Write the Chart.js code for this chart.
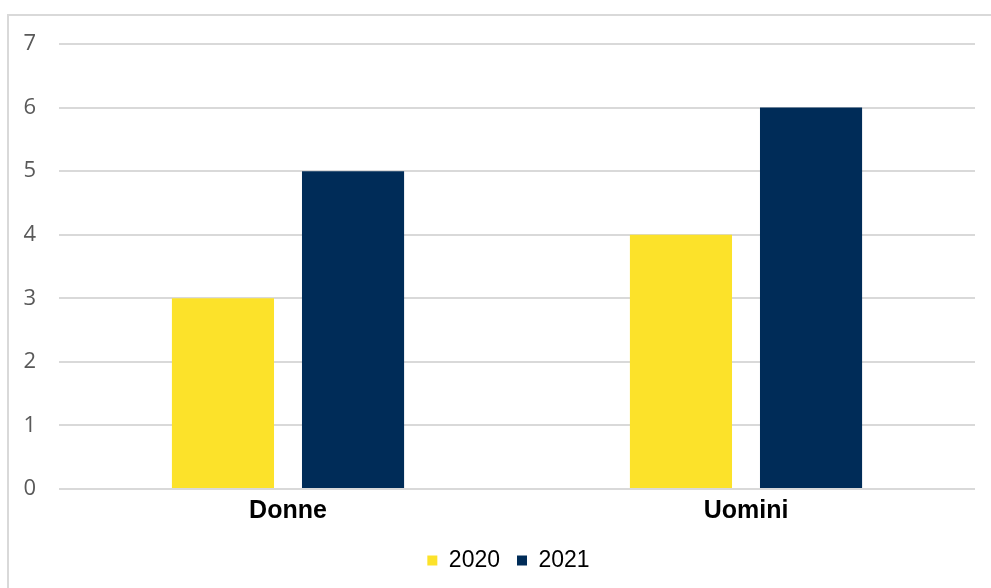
<!DOCTYPE html>
<html>
<head>
<meta charset="utf-8">
<script src="https://cdn.jsdelivr.net/npm/chart.js@4.4.0/dist/chart.umd.min.js"></script>
<style>
  html, body { margin: 0; padding: 0; background: #fff; }
  #wrap { position: relative; width: 991px; height: 588px; }
  #frame { position: absolute; left: 7px; top: 14px; right: 0; bottom: 0;
           border-left: 2px solid #d9d9d9; border-top: 2px solid #d9d9d9; }
  #grafico { position: absolute; left: 0; top: 0; }
</style>
</head>
<body>
<div id="wrap">
  <div id="frame"></div>
  <canvas id="grafico" width="991" height="588"></canvas>
</div>
<script>
// dati
var categorie = ['Donne', 'Uomini'];
var anni = ['2020', '2021'];
var valori2020 = [3, 4];
var valori2021 = [5, 6];
var tickY = [0, 1, 2, 3, 4, 5, 6, 7];

var colori = ['#fce22a', '#002c58'];

// sposta la legenda un po' a destra, come nell'originale
var spostaLegenda = {
    id: 'spostaLegenda',
    afterLayout: function (chart) {
        chart.legend.left += 21;
        chart.legend.right += 21;
    }
};

var ctx = document.getElementById('grafico');
var grafico = new Chart(ctx, {
    type: 'bar',
    data: {
        labels: categorie,
        datasets: [
            { label: anni[0], data: valori2020, backgroundColor: colori[0], borderWidth: 0,
              categoryPercentage: 0.568, barPercentage: 0.785 },
            { label: anni[1], data: valori2021, backgroundColor: colori[1], borderWidth: 0,
              categoryPercentage: 0.568, barPercentage: 0.785 }
        ]
    },
    options: {
        responsive: false,
        animation: false,
        layout: { padding: { top: 44, right: 16, bottom: 6, left: 0 } },
        plugins: {
            legend: {
                position: 'bottom',
                labels: {
                    boxWidth: 10, boxHeight: 10, padding: 17,
                    color: '#000',
                    font: { family: '"Liberation Sans", Arial, sans-serif', size: 23 }
                }
            },
            tooltip: { enabled: false }
        },
        scales: {
            x: {
                grid: { display: false, drawTicks: false },
                border: { display: false },
                ticks: {
                    padding: 7, color: '#000',
                    font: { family: '"Liberation Sans", Arial, sans-serif', size: 25, weight: 'bold' }
                },
                afterFit: function (s) { s.height = 43; }
            },
            y: {
                min: 0, max: 7,
                afterBuildTicks: function (s) { s.ticks = tickY.map(function (v) { return { value: v }; }); },
                grid: { color: '#d9d9d9', lineWidth: 2, drawTicks: false },
                border: { display: false },
                ticks: {
                    padding: 23, color: '#595959',
                    font: { family: '"Open Sans", sans-serif', size: 22 }
                },
                afterFit: function (s) { s.width = 59; }
            }
        }
    },
    plugins: [spostaLegenda]
});
</script>
</body>
</html>
